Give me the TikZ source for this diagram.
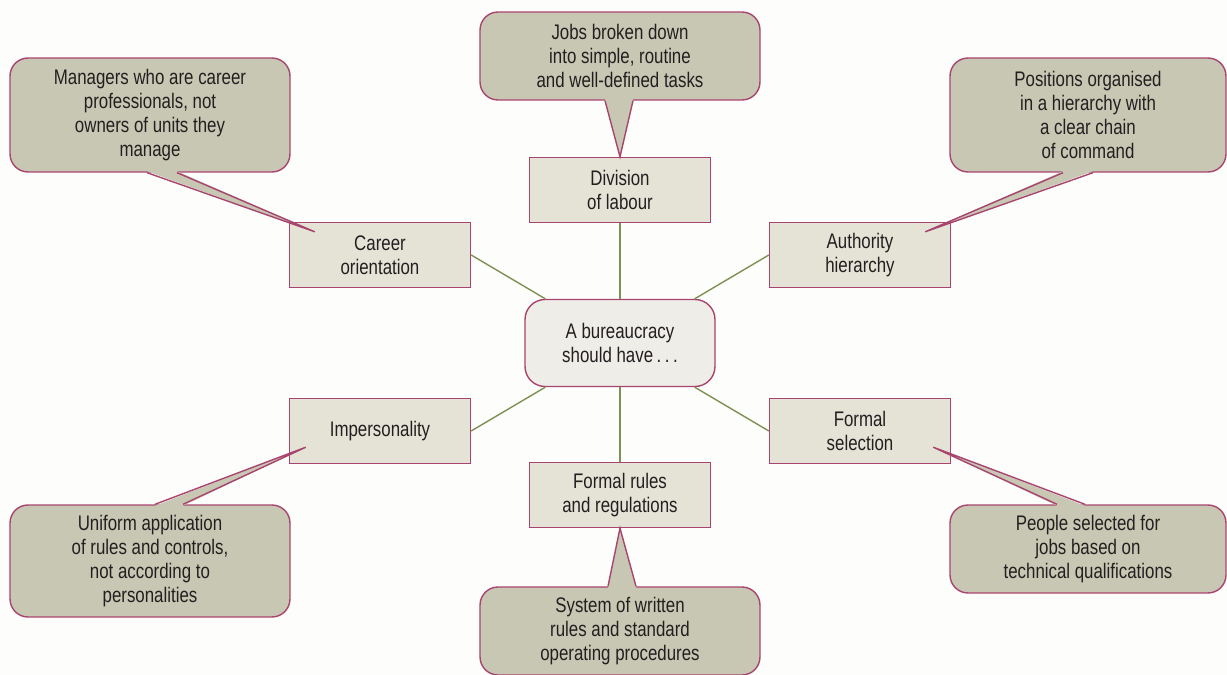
\documentclass[tikz,border=0pt]{standalone}
\usepackage{fontspec}
\setmainfont{Liberation Sans}[FakeStretch=0.8]
\usetikzlibrary{calc}
\definecolor{edgered}{HTML}{A8456F}
\definecolor{boxfill}{HTML}{E5E3D6}
\definecolor{hubfill}{HTML}{EFEDE8}
\definecolor{notefill}{HTML}{C8C7B3}
\definecolor{linkgreen}{HTML}{7D9154}
\definecolor{inkgray}{HTML}{231F20}
\definecolor{paper}{HTML}{FDFDFB}
\begin{document}
\begin{tikzpicture}[x=0.02cm,y=-0.02cm,font=\fontsize{12}{13.6}\selectfont,
  item/.style={draw=edgered,fill=boxfill,text=inkgray,line width=0.8pt,minimum width=3.62cm,minimum height=1.3cm,align=center},
  hub/.style={draw=edgered,fill=hubfill,text=inkgray,line width=0.8pt,rounded corners=0.4cm,minimum width=3.8cm,minimum height=1.74cm,align=center},
  note/.style={draw=edgered,fill=notefill,text=inkgray,line width=0.8pt,rounded corners=0.36cm,minimum width=5.6cm,align=center},
  link/.style={linkgreen,line width=0.8pt},
  tailfill/.style={notefill},
  tailedge/.style={edgered,line width=0.8pt,line join=miter}]
\fill[paper] (0,0) rectangle (1227,675);
\useasboundingbox (0,0) rectangle (1227,675);
% the six features round the centre
\node[hub] (hub) at (620,343) {A bureaucracy\\should have\,.\,.\,.};
\node[item] (division) at (620,190) {Division\\of labour};
\node[item] (career) at (380,255) {Career\\orientation};
\node[item] (authority) at (860,255) {Authority\\hierarchy};
\node[item] (imperson) at (380,431) {Impersonality};
\node[item] (selection) at (860,431) {Formal\\selection};
\node[item] (rules) at (620,495) {Formal rules\\and regulations};
\draw[link] (division) -- (hub);
\draw[link] (rules) -- (hub);
\draw[link] (career.east) -- (hub);
\draw[link] (authority.west) -- (hub);
\draw[link] (imperson.east) -- (hub);
\draw[link] (selection.west) -- (hub);
% callouts
\node[note,minimum height=1.76cm] (divnote) at (620,56) {Jobs broken down\\into simple, routine\\and well-defined tasks};
\node[note,minimum height=2.28cm] (careernote) at (150,115) {Managers who are career\\professionals, not\\owners of units they\\manage};
\node[note,minimum height=2.28cm,minimum width=5.52cm] (authnote) at (1088,115) {Positions organised\\in a hierarchy with\\a clear chain\\of command};
\node[note,minimum height=2.24cm] (impnote) at (150,561) {Uniform application\\of rules and controls,\\not according to\\personalities};
\node[note,minimum height=1.76cm,minimum width=5.52cm] (selnote) at (1088,549) {People selected for\\jobs based on\\technical qualifications};
\node[note,minimum height=1.76cm] (rulesnote) at (620,631) {System of written\\rules and standard\\operating procedures};
% tails
\coordinate (divtip) at (division.north);
\coordinate (careertip) at ($(career.north west)+(26,10)$);
\coordinate (authtip) at ($(authority.north east)+(-26,10)$);
\coordinate (imptip) at ($(imperson.south west)+(17,-17)$);
\coordinate (seltip) at ($(selection.south east)+(-18,-17)$);
\coordinate (rulestip) at (rules.south);
\fill[tailfill] ($(divnote.south)+(-15,-1.5)$) -- (divtip) -- ($(divnote.south)+(13,-1.5)$) -- cycle;
\draw[tailedge] ($(divnote.south)+(-15,0)$) -- (divtip) -- ($(divnote.south)+(13,0)$);
\fill[tailfill] ($(careernote.south)+(-3,-1.5)$) -- (careertip) -- ($(careernote.south)+(27,-1.5)$) -- cycle;
\draw[tailedge] ($(careernote.south)+(-3,0)$) -- (careertip) -- ($(careernote.south)+(27,0)$);
\fill[tailfill] ($(authnote.south)+(-25,-1.5)$) -- (authtip) -- ($(authnote.south)+(5,-1.5)$) -- cycle;
\draw[tailedge] ($(authnote.south)+(-25,0)$) -- (authtip) -- ($(authnote.south)+(5,0)$);
\fill[tailfill] ($(impnote.north)+(5,1.5)$) -- (imptip) -- ($(impnote.north)+(33,1.5)$) -- cycle;
\draw[tailedge] ($(impnote.north)+(5,0)$) -- (imptip) -- ($(impnote.north)+(33,0)$);
\fill[tailfill] ($(selnote.north)+(-31,1.5)$) -- (seltip) -- ($(selnote.north)+(-3,1.5)$) -- cycle;
\draw[tailedge] ($(selnote.north)+(-31,0)$) -- (seltip) -- ($(selnote.north)+(-3,0)$);
\fill[tailfill] ($(rulesnote.north)+(-12,1.5)$) -- (rulestip) -- ($(rulesnote.north)+(16,1.5)$) -- cycle;
\draw[tailedge] ($(rulesnote.north)+(-12,0)$) -- (rulestip) -- ($(rulesnote.north)+(16,0)$);
\end{tikzpicture}
\end{document}
